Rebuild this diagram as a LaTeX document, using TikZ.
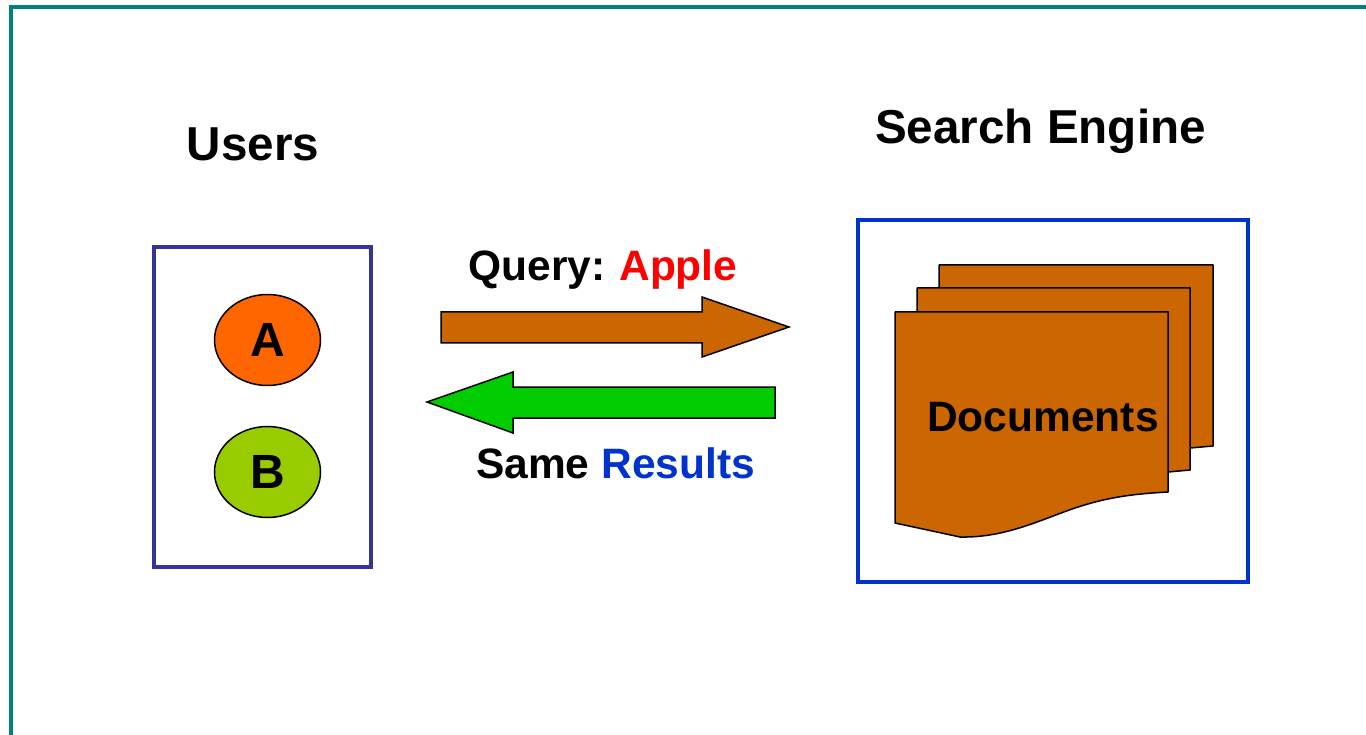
\documentclass[tikz,border=0pt]{standalone}
\usepackage{fontspec}
\setmainfont{Liberation Sans}
\usetikzlibrary{shapes.geometric}
\definecolor{teal1}{HTML}{008080}
\definecolor{navy1}{HTML}{333399}
\definecolor{blue1}{HTML}{0033CC}
\definecolor{brown1}{HTML}{CC6600}
\definecolor{orange1}{HTML}{FF6600}
\definecolor{lime1}{HTML}{99CC00}
\definecolor{green1}{HTML}{00CC00}
\tikzset{
 px/.style={x=1pt,y=-1pt},
 lbl/.style={inner sep=0pt,text=black},
 bigf/.style={font=\bfseries\fontsize{47.6}{50}\selectfont},
 midf/.style={font=\bfseries\fontsize{42.5}{46}\selectfont},
 sheet/.style={draw=black,fill=brown1,line width=1.5pt,line join=round},
 arrowshape/.style={draw=black,line width=1.5pt,line join=miter},
 ell/.style={draw=black,line width=1.5pt,ellipse,minimum width=106pt,minimum height=91pt,inner sep=0pt,font=\bfseries\fontsize{48}{50}\selectfont}
}
\begin{document}
\begin{tikzpicture}[px]
\useasboundingbox (0,0) rectangle (1366,735);
\fill[white] (0,0) rectangle (1366,735);
\draw[teal1,line width=4pt] (10.5,735) -- (10.5,7) -- (1366,7);
\node[draw=navy1,line width=3.5pt,minimum width=217pt,minimum height=320pt,inner sep=0pt] (users) at (262.5,407) {};
\node[draw=blue1,line width=3.5pt,minimum width=390pt,minimum height=362pt,inner sep=0pt] (engine) at (1053,401) {};
\node[lbl,bigf] (ut) at (253,144) {Users};
\node[lbl,bigf] (st) at (1040.5,131) {Search Engine};
\node[ell,fill=orange1] (a) at (267.5,340) {\raisebox{1pt}{A}};
\node[ell,fill=lime1] (b) at (267.5,472) {\raisebox{-7pt}{B}};
\draw[arrowshape,fill=brown1] (441,312) -- (702,312) -- (702,297) -- (789,327) -- (702,357) -- (702,343) -- (441,343) -- cycle;
\draw[arrowshape,fill=green1] (775,387) -- (513,387) -- (513,372) -- (427,402) -- (513,433) -- (513,418) -- (775,418) -- cycle;
\node[lbl,midf] (q) at (603,270) {Query:\hspace{-2pt} \textcolor{red}{Apple}};
\node[lbl,midf] (r) at (615.5,463) {Same \textcolor{blue1}{Results}};
\draw[sheet] (939,288) -- (939,265) -- (1213,265) -- (1213,446) -- (1190,448) -- (1190,288) -- cycle;
\draw[sheet] (917,312) -- (917,288) -- (1190,288) -- (1190,470) -- (1168,472) -- (1168,312) -- cycle;
\draw[sheet] (895,312) -- (1168,312) -- (1168,492) .. controls (1130,494) and (1105,498) .. (1075,508) .. controls (1040,520) and (1005,538) .. (960,537) -- (895,523) -- cycle;
\node[lbl,midf] (d) at (1043,417) {Documents};
\end{tikzpicture}
\end{document}
